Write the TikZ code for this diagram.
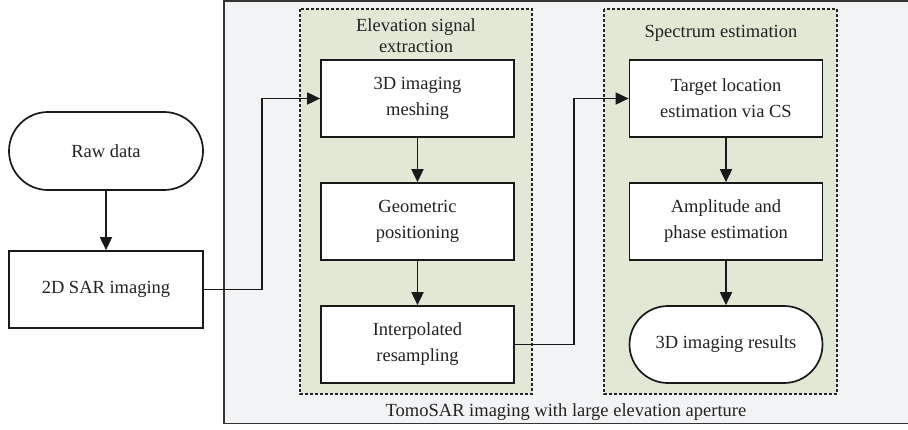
\documentclass[tikz,border=0pt]{standalone}
\usepackage{fontspec}
\setmainfont{Liberation Serif}
\usetikzlibrary{shapes.misc,arrows.meta}
\definecolor{outerfill}{HTML}{F2F3F5}
\definecolor{groupfill}{HTML}{E2E8D6}
\definecolor{txt}{HTML}{222222}
\tikzset{
  box/.style={draw=black!90, line width=1.7pt, fill=white, minimum width=193pt, minimum height=77pt, inner sep=0pt, align=center, text=txt, font=\fontsize{18.5}{26}\selectfont},
  stadium/.style={box, rounded rectangle},
  group/.style={draw=black!85, line width=1.5pt, dash pattern=on 3pt off 2pt, fill=groupfill},
  lbl/.style={inner sep=0pt, align=center, text=txt, font=\fontsize{18.5}{21}\selectfont},
  conn/.style={line width=1.8pt, draw=black!90, -{Triangle[length=13pt,width=12pt]}},
}
\begin{document}
\begin{tikzpicture}[x=1pt,y=-1pt]
\useasboundingbox (0,0) rectangle (908,429);
\draw[fill=outerfill, draw=black!80, line width=1.8pt] (224,1) rectangle (909,423.5);
\draw[group] (300,9) rectangle (532,394);
\draw[group] (604,9) rectangle (837,394);
\node[lbl] (t1) at (416,35.5) {Elevation signal\\extraction};
\node[lbl] (t2) at (721,33) {Spectrum estimation};
\node[lbl] (t3) at (566,412) {TomoSAR imaging with large elevation aperture};

\node[stadium, minimum width=194pt, minimum height=78pt] (raw) at (106,151) {Raw data};
\node[box, minimum width=194pt] (sar) at (106,289.5) {2D SAR imaging};
\node[box] (mesh) at (417.5,98.5) {3D imaging\\meshing};
\node[box] (geo) at (417.5,221.5) {Geometric\\positioning};
\node[box] (interp) at (417.5,344.5) {Interpolated\\resampling};
\node[box] (target) at (726,98.5) {Target location\\estimation via CS};
\node[box] (amp) at (726,221.5) {Amplitude and\\phase estimation};
\node[stadium] (res) at (726,344.5) {3D imaging results};

\draw[conn] (raw) -- (sar);
\draw[conn] (sar.east) -- ++(58,0) |- (mesh.west);
\draw[conn] (mesh) -- (geo);
\draw[conn] (geo) -- (interp);
\draw[conn] (interp.east) -- ++(59,0) |- (target.west);
\draw[conn] (target) -- (amp);
\draw[conn] (amp) -- (res);
\end{tikzpicture}
\end{document}
